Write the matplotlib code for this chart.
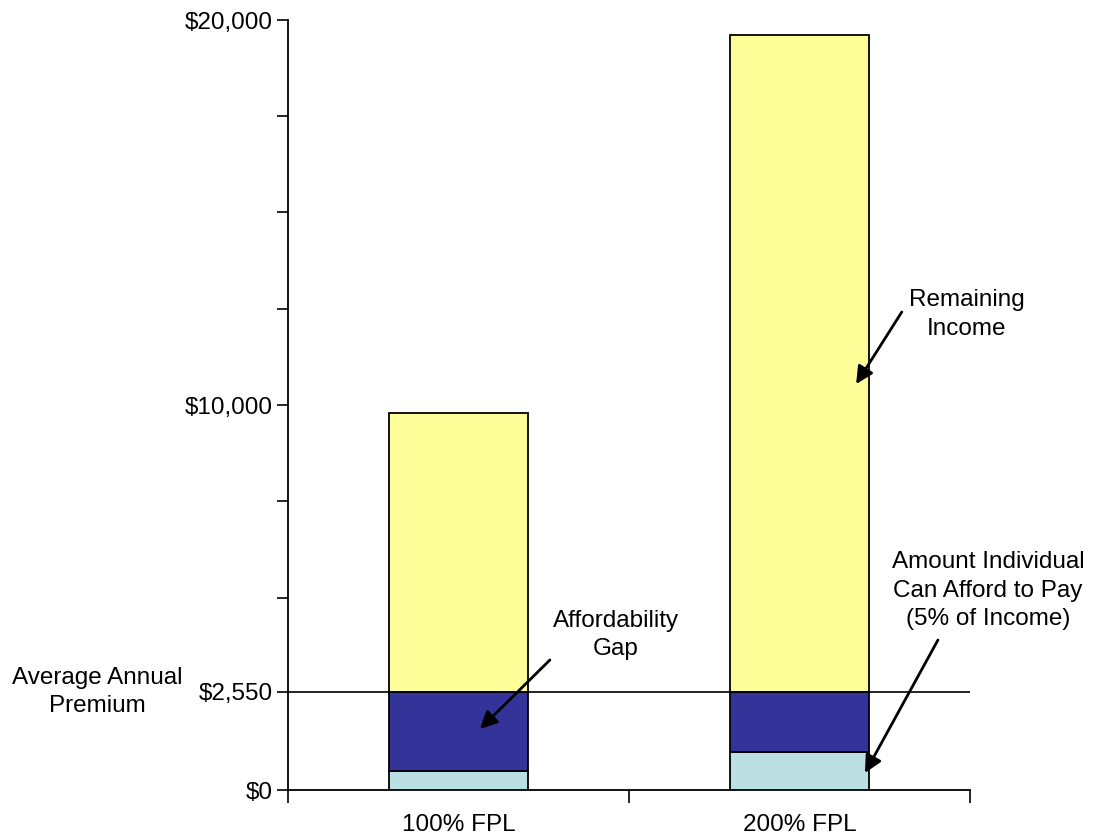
import numpy as np
import matplotlib.pyplot as plt

plt.rcParams['font.family'] = ['Liberation Sans', 'DejaVu Sans']

categories = ['100% FPL', '200% FPL']
can_afford = [490, 980]
afford_gap = [2060, 1570]
remaining = [7250, 17050]
premium = 2550

x = np.arange(len(categories))
fig = plt.figure(figsize=(10.93, 8.38), dpi=100)
ax = fig.add_axes([288 / 1093, 1 - 790 / 838, 682 / 1093, 770 / 838])

w = 0.405
ax.bar(x, can_afford, w, color='#bae0e3', edgecolor='black', linewidth=1.3, zorder=3)
ax.bar(x, afford_gap, w, bottom=can_afford, color='#333399', edgecolor='black', linewidth=1.3, zorder=3)
bottom2 = np.array(can_afford) + np.array(afford_gap)
ax.bar(x, remaining, w, bottom=bottom2, color='#ffff99', edgecolor='black', linewidth=1.3, zorder=3)

ax.axhline(premium, color='black', linewidth=1.2, zorder=4)

ax.set_xlim(-0.5, 1.5)
ax.set_ylim(0, 20000)

for s in ['top', 'right']:
    ax.spines[s].set_visible(False)
ax.spines['left'].set_linewidth(1.3)
ax.spines['bottom'].set_linewidth(1.3)

fs = 17.5
yt = [0, 2550, 5000, 7500, 10000, 12500, 15000, 17500, 20000]
ylab = ['$0', '$2,550', '', '', '$10,000', '', '', '', '$20,000']
ax.set_yticks(yt)
ax.set_yticklabels(ylab, fontsize=fs)
ax.tick_params(axis='y', length=8, width=1.2, pad=3)

ax.set_xticks(x)
ax.set_xticklabels(categories, fontsize=fs)
ax.tick_params(axis='x', which='major', length=0, pad=17)
ax.set_xticks([-0.5, 0.5, 1.5], minor=True)
ax.tick_params(axis='x', which='minor', length=9, width=1.2)

ls = 1.38
ax.text(-1.058, premium, 'Average Annual\nPremium', fontsize=fs, ha='center', va='center',
        linespacing=ls, clip_on=False)

ax.text(0.462, 4020, 'Affordability\nGap', fontsize=fs, ha='center', va='center', linespacing=ls)
ax.text(1.49, 12350, 'Remaining\nIncome', fontsize=fs, ha='center', va='center', linespacing=ls)
ax.text(1.553, 5170, 'Amount Individual\nCan Afford to Pay\n(5% of Income)', fontsize=fs,
        ha='center', va='center', linespacing=ls, clip_on=False)

arrows = [((0.268, 3377), (0.063, 1584)),
          ((1.300, 12416), (1.166, 10545)),
          ((1.406, 3896), (1.192, 442))]
for tail, head in arrows:
    ax.annotate('', xy=head, xytext=tail, annotation_clip=False,
                arrowprops=dict(arrowstyle='-|>', color='black', lw=2, mutation_scale=26,
                                shrinkA=0, shrinkB=0), zorder=5)

fig.savefig('out.png', dpi=100)
